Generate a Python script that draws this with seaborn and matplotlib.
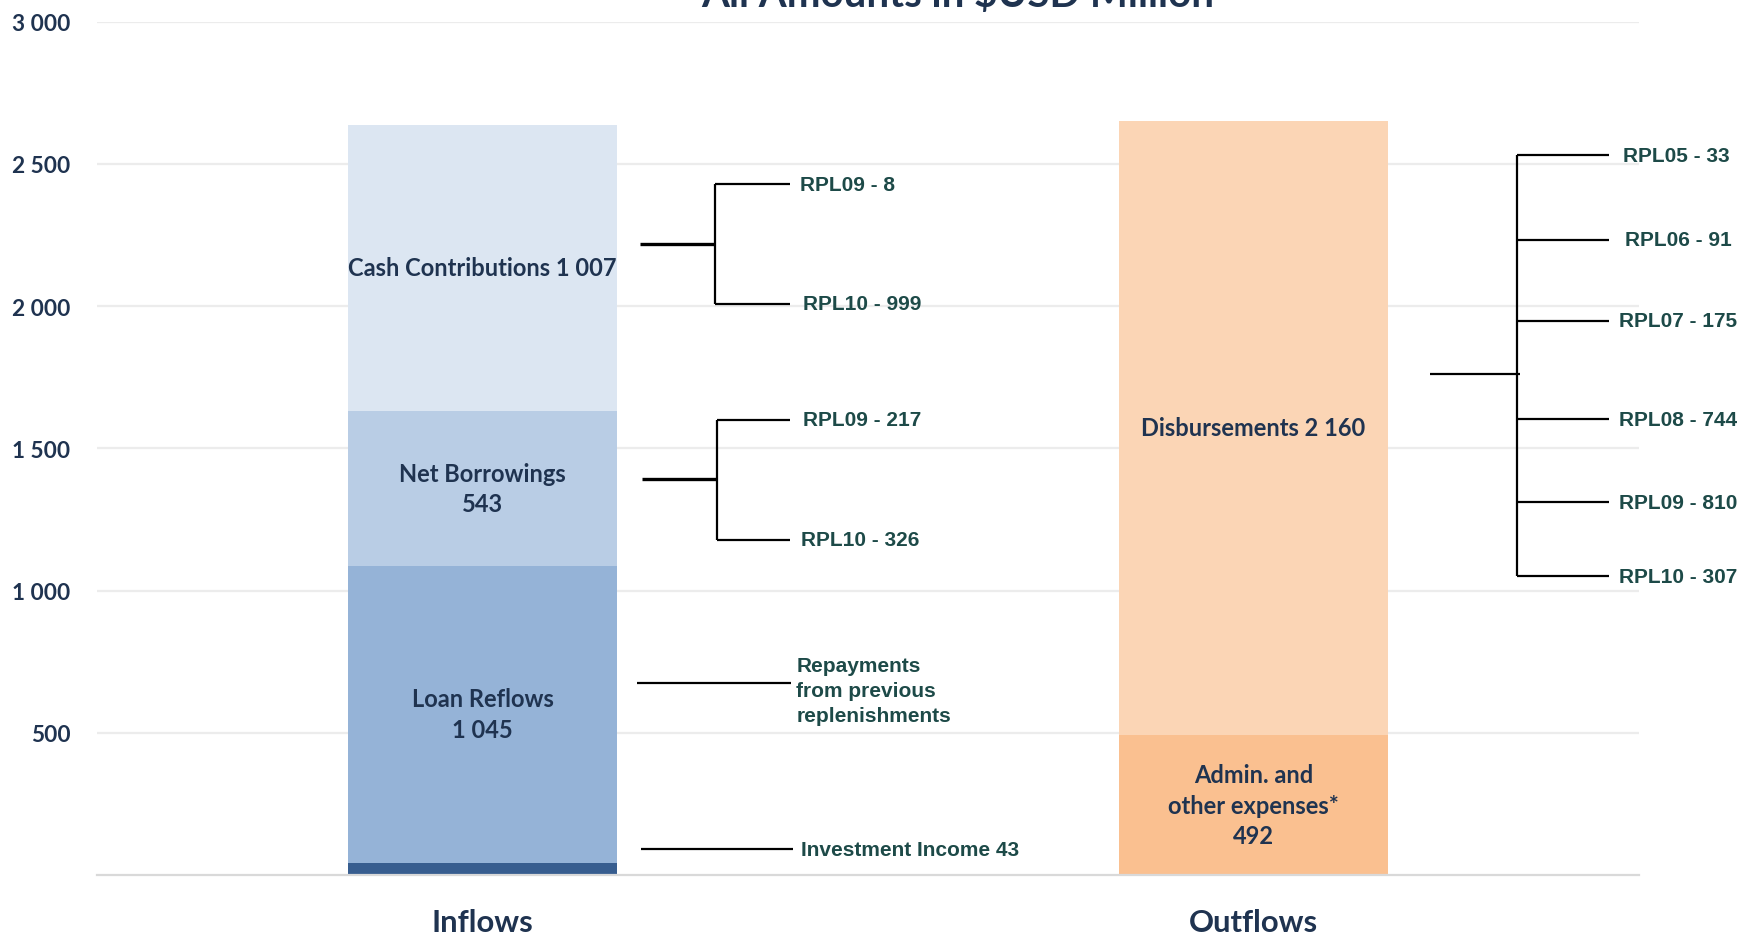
import numpy as np
import pandas as pd
import matplotlib
matplotlib.use("Agg")
import matplotlib.pyplot as plt
import seaborn as sb

# ---- data ----
categories = ["Inflows", "Outflows"]

inflow_parts = ["Investment Income", "Loan Reflows", "Net Borrowings", "Cash Contributions"]
inflow_values = [43, 1045, 543, 1007]

outflow_parts = ["Admin. and other expenses*", "Disbursements"]
outflow_values = [492, 2160]

cash_rpl = ["RPL09", "RPL10"]
cash_rpl_values = [8, 999]
borrow_rpl = ["RPL09", "RPL10"]
borrow_rpl_values = [217, 326]
disb_rpl = ["RPL05", "RPL06", "RPL07", "RPL08", "RPL09", "RPL10"]
disb_rpl_values = [33, 91, 175, 744, 810, 307]

y_ticks = [500, 1000, 1500, 2000, 2500, 3000]

colors = {
    "Investment Income": "#375d8f",
    "Loan Reflows": "#95b3d7",
    "Net Borrowings": "#b9cde5",
    "Cash Contributions": "#dce6f2",
    "Admin. and other expenses*": "#fac090",
    "Disbursements": "#fbd5b5",
}
inner_fmt = {
    "Loan Reflows": "Loan Reflows\n{}",
    "Net Borrowings": "Net Borrowings\n{}",
    "Cash Contributions": "Cash Contributions {}",
    "Admin. and other expenses*": "Admin. and\nother expenses*\n{}",
    "Disbursements": "Disbursements {}",
}

NAVY = "#1f3350"
TEAL = "#1d4a48"


def fmt(v):
    return f"{v:,}".replace(",", " ")


rows = []
for cat, parts, vals in [("Inflows", inflow_parts, inflow_values),
                         ("Outflows", outflow_parts, outflow_values)]:
    bottoms = np.concatenate([[0], np.cumsum(vals)[:-1]])
    for p, v, b in zip(parts, vals, bottoms):
        rows.append({"category": cat, "part": p, "value": v, "bottom": b})
df = pd.DataFrame(rows)

sb.set_style("white")
plt.rcParams["font.family"] = ["Lato", "DejaVu Sans"]

fig = plt.figure(figsize=(17.46, 9.37), dpi=100)
ax = fig.add_axes([97 / 1746, 1 - 876 / 937, (1639 - 97) / 1746, (876 - 22.7) / 937])

for _, r in df.iterrows():
    sb.barplot(x=[r["category"]], y=[r["value"]], order=categories, bottom=r["bottom"],
               color=colors[r["part"]], width=0.348, saturation=1, errorbar=None,
               linewidth=0, edgecolor="none", ax=ax)

ax.set_xlim(-0.5, 1.5)
ax.set_ylim(0, 3000)
ax.set_xlabel("")
ax.set_ylabel("")

# inner labels
for _, r in df.iterrows():
    if r["part"] in inner_fmt:
        xi = categories.index(r["category"])
        ax.text(xi, r["bottom"] + r["value"] / 2, inner_fmt[r["part"]].format(fmt(r["value"])),
                ha="center", va="center", fontsize=17, fontweight="bold", color=NAVY,
                linespacing=1.4)

# axes styling
ax.set_yticks(y_ticks)
ax.set_yticklabels([fmt(t) for t in y_ticks])
ax.yaxis.grid(True, color="#ececec", lw=1.6)
ax.set_axisbelow(True)
for s in ["left", "right", "top"]:
    ax.spines[s].set_visible(False)
ax.spines["bottom"].set_color("#d9d9d9")
ax.spines["bottom"].set_linewidth(1.6)
ax.tick_params(axis="y", length=0, pad=19, labelsize=16.3, labelcolor=NAVY)
for t in ax.get_yticklabels():
    t.set_fontweight("bold")
ax.tick_params(axis="x", which="major", length=0, pad=24, labelsize=22.3, labelcolor=NAVY)
for t in ax.get_xticklabels():
    t.set_fontweight("bold")
ax.set_xticks([-0.5, 0.5, 1.5], minor=True)
ax.tick_params(axis="x", which="minor", length=8, width=1.2, color="#d9d9d9", direction="out")

ann = dict(fontsize=15, fontweight="bold", color=TEAL, family=["Liberation Sans", "DejaVu Sans"],
           va="center", ha="left")
line = dict(color="black", clip_on=False, solid_capstyle="butt")

# cash contributions bracket
ax.plot([0.204, 0.302], [2218, 2218], lw=2.4, **line)
ax.plot([0.302, 0.302], [2429, 2008], lw=1.6, **line)
for yb, xt, name, v in zip([2429, 2008], [0.412, 0.416], cash_rpl, cash_rpl_values):
    ax.plot([0.302, 0.399], [yb, yb], lw=1.6, **line)
    ax.text(xt, yb, f"{name} - {fmt(v)}", **ann)

# net borrowings bracket
ax.plot([0.207, 0.304], [1392, 1392], lw=2.4, **line)
ax.plot([0.304, 0.304], [1600, 1178], lw=1.6, **line)
for yb, xt, name, v in zip([1600, 1178], [0.416, 0.413], borrow_rpl, borrow_rpl_values):
    ax.plot([0.304, 0.399], [yb, yb], lw=1.6, **line)
    ax.text(xt, yb, f"{name} - {fmt(v)}", **ann)

# loan reflows / investment income
ax.plot([0.200, 0.400], [675, 675], lw=1.6, **line)
ax.text(0.407, 648, "Repayments\nfrom previous\nreplenishments", linespacing=1.38, **ann)
ax.plot([0.206, 0.403], [91, 91], lw=1.6, **line)
ax.text(0.413, 91, f"Investment Income {fmt(inflow_values[0])}", **ann)

# disbursements bracket
disb_y = [2531, 2234, 1948, 1603, 1311, 1051]
disb_x = [1.479, 1.482, 1.474, 1.474, 1.474, 1.474]
ax.plot([1.229, 1.346], [1761, 1761], lw=1.6, **line)
ax.plot([1.342, 1.342], [disb_y[0], disb_y[-1]], lw=1.6, **line)
for yb, xt, name, v in zip(disb_y, disb_x, disb_rpl, disb_rpl_values):
    ax.plot([1.342, 1.461], [yb, yb], lw=1.6, **line)
    ax.text(xt, yb, f"{name} - {fmt(v)}", **ann)

# title, cut off at the top like the reference
fig.text(958 / 1746, 1 - 7 / 937, r"All Amounts in \$USD Million", ha="center", va="baseline",
         fontsize=29, fontweight="bold", color=NAVY)

fig.savefig("out.png", dpi=100)
